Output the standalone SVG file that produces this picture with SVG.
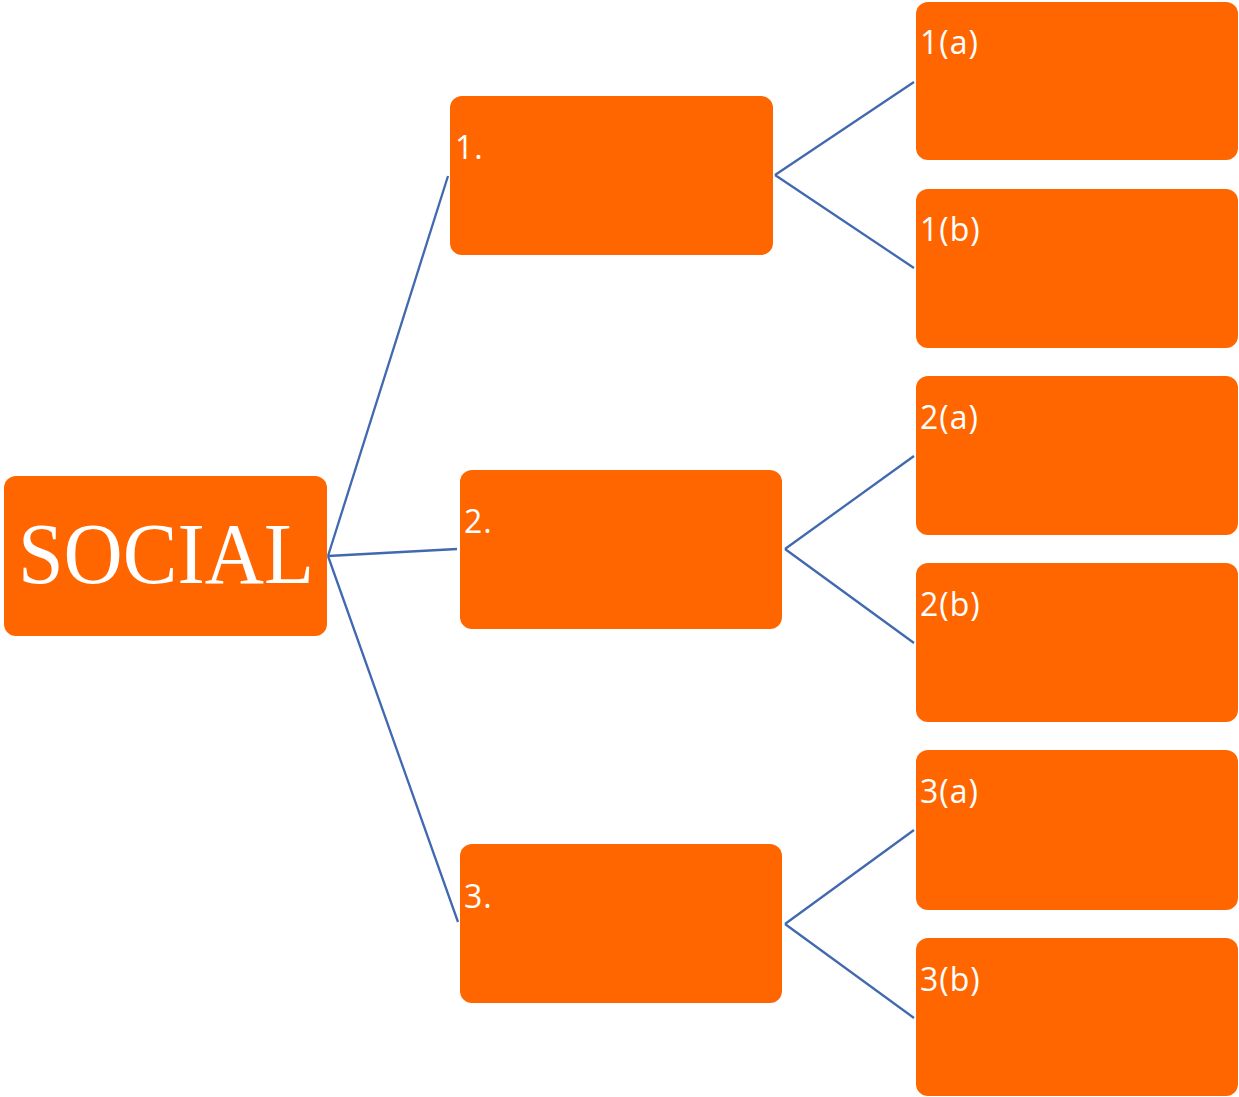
<svg xmlns="http://www.w3.org/2000/svg" width="1239" height="1097" viewBox="0 0 1239 1097">
<style>
.box{fill:#FF6600;}
.lbl{fill:#fff;font-family:"Open Sans","Liberation Sans",sans-serif;font-size:32px;letter-spacing:1px;}
.big{fill:#fff;font-family:"Liberation Serif","DejaVu Serif",serif;font-size:86px;}
.con{stroke:#4169B0;stroke-width:2.3;fill:none;}
</style>
<rect width="1239" height="1097" fill="#fff"/>
<g id="connectors">
<path class="con" d="M328,556 L448,176 M328,556 L457,549 M328,556 L458,922"/>
<path class="con" d="M775,175 L914,82 M775,175 L914,268"/>
<path class="con" d="M785,549 L914,456 M785,549 L914,643"/>
<path class="con" d="M785,924 L914,830 M785,924 L914,1018"/>
</g>
<g id="social"><rect class="box" x="4" y="476" width="323" height="160" rx="12"/><text class="big" x="18" y="583" textLength="296" lengthAdjust="spacingAndGlyphs">SOCIAL</text></g>
<g id="n1"><rect class="box" x="450" y="96" width="323" height="159" rx="12"/><text class="lbl" x="455" y="159">1.</text></g>
<g id="n2"><rect class="box" x="460" y="470" width="322" height="159" rx="12"/><text class="lbl" x="464" y="533">2.</text></g>
<g id="n3"><rect class="box" x="460" y="844" width="322" height="159" rx="12"/><text class="lbl" x="464" y="908">3.</text></g>
<g id="n1a"><rect class="box" x="916" y="2" width="322" height="158" rx="12"/><text class="lbl" x="920" y="54">1(a)</text></g>
<g id="n1b"><rect class="box" x="916" y="189" width="322" height="159" rx="12"/><text class="lbl" x="920" y="241">1(b)</text></g>
<g id="n2a"><rect class="box" x="916" y="376" width="322" height="159" rx="12"/><text class="lbl" x="920" y="429">2(a)</text></g>
<g id="n2b"><rect class="box" x="916" y="563" width="322" height="159" rx="12"/><text class="lbl" x="920" y="616">2(b)</text></g>
<g id="n3a"><rect class="box" x="916" y="750" width="322" height="160" rx="12"/><text class="lbl" x="920" y="803">3(a)</text></g>
<g id="n3b"><rect class="box" x="916" y="938" width="322" height="158" rx="12"/><text class="lbl" x="920" y="991">3(b)</text></g>
</svg>
